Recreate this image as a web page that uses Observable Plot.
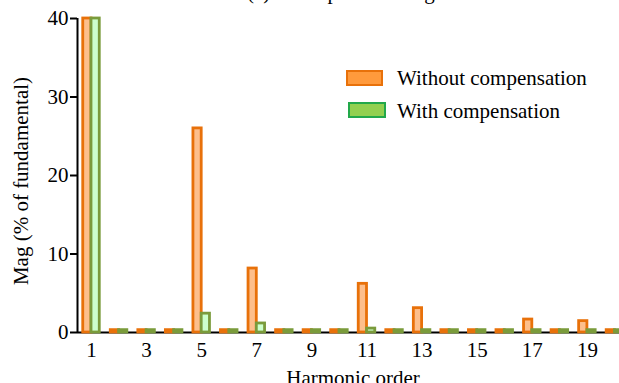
<!DOCTYPE html>
<html>
<head>
<meta charset="utf-8">
<script src="https://cdn.jsdelivr.net/npm/d3@7"></script>
<script src="https://cdn.jsdelivr.net/npm/@observablehq/plot@0.6"></script>
<style>
  body { margin: 0; background: #fff; }
  #wrap { position: relative; width: 619px; height: 383px; overflow: hidden; background: #fff; }
  #wrap svg { overflow: visible; display: block; }
</style>
</head>
<body>
<div id="wrap"></div>
<script>
// ---- data ----
const titleText = "(a) Line spectrum of grid current";
const harmonics = [1, 2, 3, 4, 5, 6, 7, 8, 9, 10, 11, 12, 13, 14, 15, 16, 17, 18, 19, 20];
const seriesNames = ["Without compensation", "With compensation"];
const withoutComp = [40, 0.3, 0.3, 0.3, 26.0, 0.3, 8.15, 0.3, 0.3, 0.3, 6.2, 0.3, 3.1, 0.3, 0.3, 0.3, 1.65, 0.3, 1.45, 0.3];
const withComp    = [40, 0.3, 0.3, 0.3, 2.4, 0.3, 1.15, 0.3, 0.3, 0.3, 0.5, 0.3, 0.3, 0.3, 0.3, 0.3, 0.3, 0.3, 0.3, 0.3];
const xTicks = [1, 3, 5, 7, 9, 11, 13, 15, 17, 19];
const yTicks = [0, 10, 20, 30, 40];
const xLabel = "Harmonic order";
const yLabel = "Mag (% of fundamental)";

// ---- styling ----
const font = "'Liberation Serif', 'Times New Roman', serif";
const fs = 21;
const xDomain = [0.4918, 20.165];
const halfWidth = 0.3;
const barStyle = {
  [seriesNames[0]]: { stroke: "#E8710A", fill: "#FDBF8C", swatchFill: "#FF9A3C", swatchStroke: "#E8710A" },
  [seriesNames[1]]: { stroke: "#7A9B3B", fill: "#CCFFCC", swatchFill: "#92D050", swatchStroke: "#22A84A" }
};

const rowsWithout = harmonics.map((h, i) => ({ h, series: seriesNames[0], v: withoutComp[i] }));
const rowsWith = harmonics.map((h, i) => ({ h, series: seriesNames[1], v: withComp[i] }));

const chart = Plot.plot({
  width: 619,
  height: 383,
  marginLeft: 77,
  marginRight: 0,
  marginTop: 18,
  marginBottom: 51,
  style: { fontFamily: font, fontSize: fs + "px", color: "#000", background: "transparent" },
  x: { type: "linear", domain: xDomain, ticks: xTicks, tickSize: 0, tickPadding: 10, tickFormat: d => String(d), label: null },
  y: { domain: [0, 40], ticks: yTicks, tickSize: 7, tickPadding: 2, tickFormat: d => String(d), label: null },
  marks: [
    Plot.ruleY([0], { stroke: "#000", strokeWidth: 2 }),
    Plot.ruleX([xDomain[0]], { stroke: "#000", strokeWidth: 2 }),
    Plot.rect(rowsWithout, {
      x1: d => d.h - halfWidth, x2: d => d.h, y1: d => 0, y2: "v",
      fill: barStyle[seriesNames[0]].fill, stroke: barStyle[seriesNames[0]].stroke, strokeWidth: 2.8
    }),
    Plot.rect(rowsWith, {
      x1: d => d.h, x2: d => d.h + halfWidth, y1: d => 0, y2: "v",
      fill: barStyle[seriesNames[1]].fill, stroke: barStyle[seriesNames[1]].stroke, strokeWidth: 2.8
    })
  ]
});

document.getElementById("wrap").appendChild(chart);
const svg = d3.select(chart);
svg.selectAll("g[aria-label='y-axis tick'] path, g[aria-label='y-axis tick'] line").attr("stroke-width", 2);

const addText = (x, y, s, anchor) => svg.append("text")
  .attr("x", x).attr("y", y).attr("text-anchor", anchor)
  .attr("font-family", font).attr("font-size", fs).attr("fill", "#000").text(s);

// title (mostly cut off at the top, as in the reference)
addText(247, -1, titleText, "start");

// axis titles
addText(353, 384.5, xLabel, "middle");
svg.append("text").attr("transform", "translate(28,181) rotate(-90)").attr("text-anchor", "middle")
  .attr("font-family", font).attr("font-size", fs).attr("fill", "#000").text(yLabel);

// legend
const legendItems = [
  { name: seriesNames[0], x: 347, y: 71, w: 35, h: 14, tx: 397, ty: 85 },
  { name: seriesNames[1], x: 349, y: 103, w: 36, h: 14, tx: 397, ty: 117.5 }
];
legendItems.forEach(it => {
  svg.append("rect").attr("x", it.x).attr("y", it.y).attr("width", it.w).attr("height", it.h)
    .attr("fill", barStyle[it.name].swatchFill).attr("stroke", barStyle[it.name].swatchStroke).attr("stroke-width", 2);
  addText(it.tx, it.ty, it.name, "start");
});
</script>
</body>
</html>
